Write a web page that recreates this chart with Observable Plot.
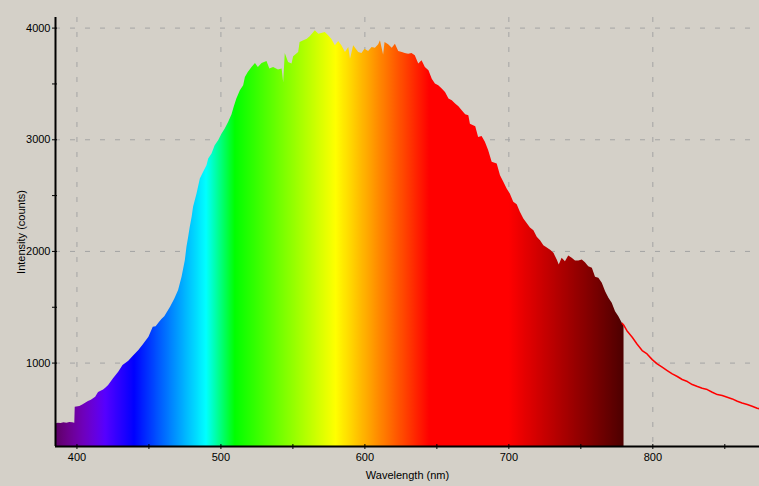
<!DOCTYPE html>
<html><head><meta charset="utf-8">
<script src="https://cdn.jsdelivr.net/npm/d3@7"></script>
<script src="https://cdn.jsdelivr.net/npm/@observablehq/plot@0.6"></script>
<style>
html,body{margin:0;padding:0;background:#d4d0c8;overflow:hidden;}
</style></head><body>
<div id="chart"></div>
<script>
const wavelengths = [385,387,389,391,393,395,397,398.5,398.8,402,404,406,408,410,413,415,418.5,420,422,425.4,429,432,436,439,443,446,450,453,455,457,459,461,465,468,470.6,473,475.3,476.4,477.6,478.7,480,481,483.4,485.7,488,490.3,491.5,493.8,496,498.4,500.8,503,505.4,507.7,509,511,513.5,515.8,517,519,521.6,524,526,528.6,532,534,536.6,540,542.5,543.6,544.7,547,549.4,550.5,554,555,557.6,560,562,565.6,568,570,572.5,574.8,577,579.5,581.8,584,586.5,588.8,590,592.2,595.7,598,600,602.6,605,607.3,609.6,610.8,613,614,616.5,619,621.2,623.5,626,628,630.4,632.7,635,637.4,639.7,642,644.5,646.8,649,651.3,653.7,656,658.4,660.7,663,665.3,667.6,670,672.2,673.3,677,679,681.4,683.7,686,688.4,691.9,694.2,696.5,698.8,701,703.4,705.8,708,710.4,712.7,715,717.4,719.7,722,724.3,726.7,729,731.3,733.6,735,737,739.3,741.6,744,746.3,748.6,751,753.2,755.5,758,760.2,762.5,764.9,767.2,769.5,771.8,774.1,776.4,778.8,780,782,785.7,789,792.6,796,799.6,803,806.5,810,813.5,817,820.4,824,827.4,831,834.3,837.8,841.3,844.8,848.2,851.7,855.2,858.7,862,865.6,869,872.5,874.5];
const counts = [455,462,460,466,462,468,466,462,605,611,625,640,656,668,694,736,760,775,799,859,918,978,1016,1058,1112,1163,1231,1320,1325,1360,1390,1416,1500,1575,1649,1768,1918,2037,2126,2216,2305,2395,2514,2648,2708,2768,2828,2872,2947,2992,3052,3096,3156,3225,3282,3363,3439,3484,3558,3603,3648,3683,3648,3683,3701,3633,3648,3624,3633,3510,3773,3693,3678,3743,3782,3871,3886,3901,3922,3976,3946,3952,3961,3931,3901,3841,3880,3841,3782,3826,3720,3841,3782,3773,3811,3790,3826,3820,3850,3886,3760,3871,3850,3820,3856,3790,3782,3773,3767,3773,3752,3678,3707,3648,3618,3543,3499,3484,3454,3424,3365,3350,3320,3296,3260,3224,3215,3140,3117,3021,3030,2977,2902,2798,2783,2678,2619,2559,2514,2440,2419,2350,2290,2251,2210,2186,2126,2096,2051,2030,2010,1983,1923,1878,1938,1908,1958,1938,1914,1914,1923,1899,1863,1849,1768,1759,1714,1639,1580,1535,1460,1415,1356,1336,1290,1231,1171,1112,1082,1031,993,963,933,903,880,853,835,808,790,775,763,739,718,709,694,679,658,643,629,614,596,590];
const xTicks = [400, 500, 600, 700, 800];
const xMinorTicks = [450, 550, 650, 750, 850];
const yTicks = [1000, 2000, 3000, 4000];
const yMinorTicks = [1500, 2500, 3500];
const xLabel = "Wavelength (nm)";
const yLabel = "Intensity (counts)";
const xDomain = [385.1, 874.1];
const yDomain = [253, 4095];
const fillEnd = 780;

const data = wavelengths.map((w, i) => ({w, c: counts[i]}));
const filled = data.filter(d => d.w <= fillEnd);
const tail = data.filter(d => d.w >= 778.8);

function specColor(w) {
  let r = 0, g = 0, b = 0;
  if (w < 440) { r = -(w - 440) / 60; b = 1; }
  else if (w < 490) { g = (w - 440) / 50; b = 1; }
  else if (w < 510) { g = 1; b = -(w - 510) / 20; }
  else if (w < 580) { r = (w - 510) / 70; g = 1; }
  else if (w < 645) { r = 1; g = -(w - 645) / 65; }
  else { r = 1; }
  let f = 1;
  if (w < 420) f = 0.3 + 0.7 * (w - 380) / 40;
  else if (w > 700) f = 0.3 + 0.7 * (780 - w) / 80;
  const c = v => Math.max(0, Math.min(255, Math.round(255 * v * f)));
  return `rgb(${c(r)},${c(g)},${c(b)})`;
}

const gridStyle = {stroke: "#a4a4a4", strokeOpacity: 1, strokeWidth: 1, strokeDasharray: "5,10"};
const fmt = d => String(d);

const chart = Plot.plot({
  width: 759, height: 486,
  marginLeft: 55, marginRight: 0, marginTop: 17, marginBottom: 40,
  style: {background: "#d4d0c8", fontFamily: "'Liberation Sans', Arial, sans-serif", fontSize: "11px", color: "#000", overflow: "visible"},
  x: {domain: xDomain},
  y: {domain: yDomain},
  marks: [
    Plot.gridX(xTicks, gridStyle),
    Plot.gridY(yTicks, gridStyle),
    Plot.areaY(filled, {x: "w", y: "c", curve: "linear", fill: "url(#spectrumFill)", clip: true}),
    Plot.line(tail, {x: "w", y: "c", stroke: "#ff0000", strokeWidth: 1.5, clip: true}),
    Plot.ruleX([xDomain[0]], {stroke: "#000", strokeWidth: 2}),
    Plot.ruleY([yDomain[0]], {stroke: "#000", strokeWidth: 2}),
    Plot.axisX(xTicks, {tickSize: 0, tickPadding: 7, tickFormat: fmt, label: xLabel, labelAnchor: "center", labelOffset: 32, labelArrow: "none"}),
    Plot.axisX([...xTicks, ...xMinorTicks], {tickSize: 5, dy: -2, fill: "none", label: null}),
    Plot.axisY(yTicks, {tickSize: 0, tickPadding: 5, tickFormat: fmt, label: yLabel, labelAnchor: "center", labelOffset: 38, labelArrow: "none"}),
    Plot.axisY([...yTicks, ...yMinorTicks], {tickSize: 5, dx: 2, fill: "none", label: null})
  ]
});

const svg = chart.tagName.toLowerCase() === "svg" ? chart : chart.querySelector("svg");
const xs = chart.scale("x");
const ns = "http://www.w3.org/2000/svg";
const defs = document.createElementNS(ns, "defs");
const grad = document.createElementNS(ns, "linearGradient");
grad.setAttribute("id", "spectrumFill");
grad.setAttribute("gradientUnits", "userSpaceOnUse");
const w0 = wavelengths[0];
grad.setAttribute("x1", xs.apply(w0));
grad.setAttribute("x2", xs.apply(fillEnd));
grad.setAttribute("y1", 0);
grad.setAttribute("y2", 0);
for (let w = w0; w <= fillEnd; w += 1) {
  const s = document.createElementNS(ns, "stop");
  s.setAttribute("offset", (w - w0) / (fillEnd - w0));
  s.setAttribute("stop-color", specColor(w));
  grad.appendChild(s);
}
defs.appendChild(grad);
svg.insertBefore(defs, svg.firstChild);
document.getElementById("chart").appendChild(chart);
</script>
</body></html>
